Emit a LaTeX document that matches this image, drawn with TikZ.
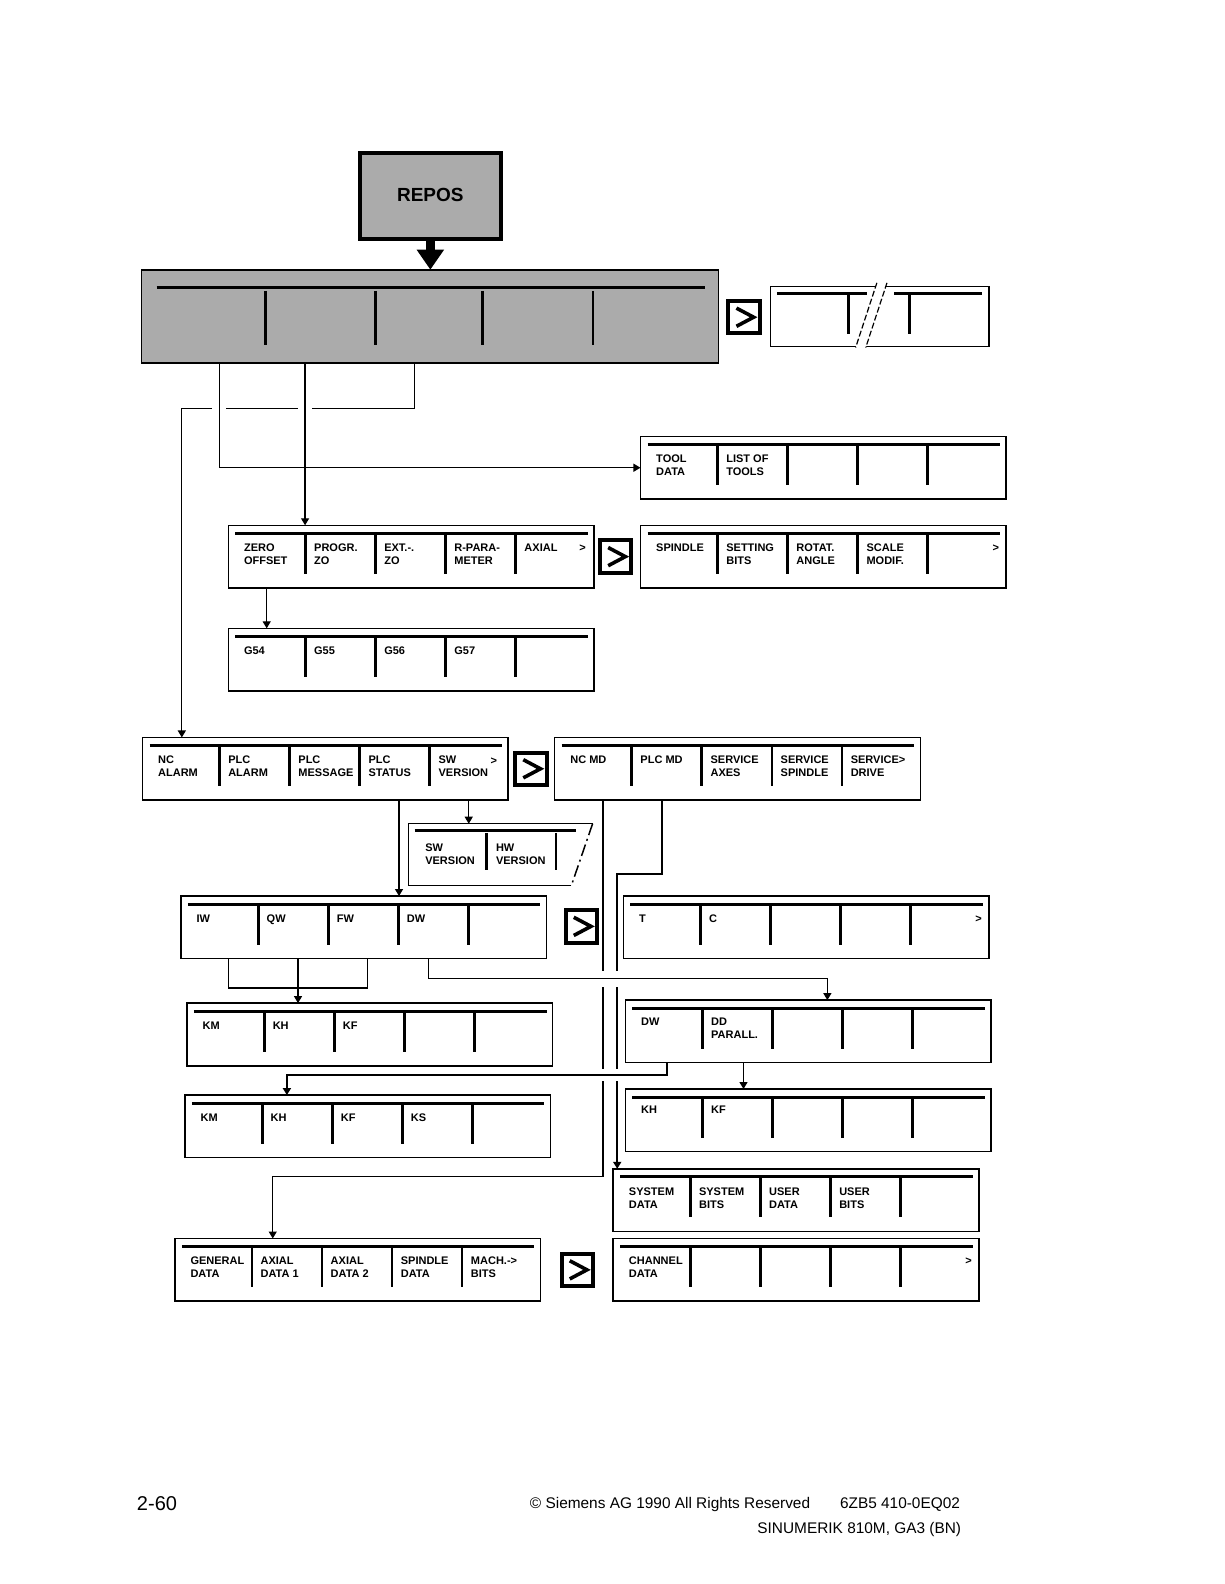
\documentclass[tikz,border=0pt]{standalone}
\usepackage{fontspec}
\setmainfont{Liberation Sans}
\usetikzlibrary{arrows.meta,fit}
\newcommand\sklabel[1]{\begin{tabular}[t]{@{}l@{}}#1\end{tabular}}

\begin{document}
\begin{tikzpicture}[x=0.505pt, y=-0.505pt, line width=0.6pt,
  >={Triangle[length=3.5pt,width=4pt]},
  skbox/.style={draw, line width=0.75pt, anchor=north west, inner sep=0pt, outer sep=0pt,
    minimum width=182.8pt, minimum height=31.3pt},
  gtbox/.style={draw, line width=2pt, anchor=north west, inner sep=0pt, outer sep=0pt,
    minimum width=15.7pt, minimum height=16.2pt},
  stipple/.style={draw, fill=black!33, inner sep=0pt, outer sep=0pt},
  topbar/.style={line width=1.5pt},
  sk/.style={line width=1.4pt},
  lbl/.style={font=\fontsize{5.5}{6.5}\selectfont\bfseries, anchor=base west, inner sep=0pt},
  foot/.style={font=\fontsize{7.7}{9}\selectfont, anchor=base west, inner sep=0pt},
  heavy/.style={line width=0.9pt}]

\useasboundingbox (0,0) rectangle (1212,1568);

% REPOS 和主菜单
\node[stipple, line width=2pt, minimum width=70.7pt, minimum height=43.4pt,
  font=\fontsize{9.5}{11}\selectfont\bfseries] (repos) at (426,194) {\raisebox{1.5pt}{REPOS}};
\node[stipple, line width=0.8pt, anchor=north west, minimum width=288.4pt, minimum height=46.5pt] (menu) at (140,267) {};
\draw[topbar] ([shift={(15,18)}]menu.north west) -- ([shift={(-13,18)}]menu.north east);
\foreach \dx in {123,232,338,447}
  \draw[sk] ([shift={(\dx,21)}]menu.north west) -- ++(0,54);
\draw[line width=4.5pt, -{Triangle[length=10pt,width=13pt]}] (repos.south) -- (repos.south |- menu.north);

% ">" 键
\foreach \n/\x/\y in {gt1/721/298, gt2/594/535, gt3/510/745, gt4/560/901, gt5/556/1241} {
  \node[gtbox] (\n) at (\x,\y) {};
  \draw[line width=1.8pt] ([shift={(8,7)}]\n.north west) -- ++(17,9) -- ++(-17,9);
}

% 右上角的续行框
\node[draw, line width=0.75pt, anchor=north west, inner sep=0pt, minimum width=109.1pt, minimum height=29.8pt] (cont) at (762,283) {};
\draw[topbar] ([shift={(7,8)}]cont.north west) -- ++(89,0);
\draw[topbar] ([shift={(123,8)}]cont.north west) -- ++(87,0);
\draw[sk] ([shift={(78,9)}]cont.north west) -- ++(0,39);
\draw[sk] ([shift={(138,9)}]cont.north west) -- ++(0,39);
\fill[white] ([shift={(106,-3)}]cont.north west) -- ++(10,0) -- ++(-21,64) -- ++(-10,0) -- cycle;
\draw[line width=0.6pt, dash pattern=on 3pt off 1.2pt] ([shift={(106,-3)}]cont.north west) -- ++(-21,64);
\draw[line width=0.6pt, dash pattern=on 3pt off 1.2pt] ([shift={(116,-3)}]cont.north west) -- ++(-21,64);

% 软键框
\foreach \n/\x/\y in {tool/634/432, zero/226/520, spin/634/520, gsel/226/622, alarm/141/730,
    mdata/549/730, iw/179/887, tc/617/887, km/185/993, dwp/619/990, kmks/183/1084,
    khkf/619/1078, sysd/607/1157, gen/173/1226, chan/607/1226} {
  \node[skbox] (\n) at (\x,\y) {};
  \draw[topbar] ([shift={(7,8)}]\n.north west) -- ([shift={(-6,8)}]\n.north east);
  \foreach \k in {0,...,3}
    \draw[sk] ([shift={(76.5+69.3*\k,9)}]\n.north west) -- ++(0,39);
}

% SW/HW 版本框
\node[fit={(405,816) (586,876)}, inner sep=0pt] (swhw) {};
\draw[line width=0.75pt] ([shift={(-21,0)}]swhw.south east) -- (swhw.south west) -- (swhw.north west) -- (swhw.north east);
\draw[line width=0.75pt, dash pattern=on 6pt off 2pt on 1pt off 2pt] (swhw.north east) -- ([shift={(-21,0)}]swhw.south east);
\draw[topbar] ([shift={(6,7)}]swhw.north west) -- ++(160,0);
\foreach \dx in {77,146}
  \draw[sk] ([shift={(\dx,9)}]swhw.north west) -- ++(0,37);

% 键名
\foreach \t [count=\i from 0] in {{TOOL\\DATA},{LIST OF\\TOOLS}}
  \node[lbl] (tool-\i) at ([shift={(15+69.4*\i,26)}]tool.north west) {\sklabel{\t}};
\foreach \t [count=\i from 0] in {{ZERO\\OFFSET},{PROGR.\\ZO},{EXT.-.\\ZO},{R-PARA-\\METER},{AXIAL}}
  \node[lbl] (zero-\i) at ([shift={(15+69.4*\i,26)}]zero.north west) {\sklabel{\t}};
\node[lbl] (zero-more) at ([shift={(-15,26)}]zero.north east) {>};
\foreach \t [count=\i from 0] in {{SPINDLE},{SETTING\\BITS},{ROTAT.\\ANGLE},{SCALE\\MODIF.}}
  \node[lbl] (spin-\i) at ([shift={(15+69.4*\i,26)}]spin.north west) {\sklabel{\t}};
\node[lbl] (spin-more) at ([shift={(-14,26)}]spin.north east) {>};
\foreach \t [count=\i from 0] in {G54,G55,G56,G57}
  \node[lbl] (gsel-\i) at ([shift={(15+69.4*\i,26)}]gsel.north west) {\sklabel{\t}};
\foreach \t [count=\i from 0] in {{NC\\ALARM},{PLC\\ALARM},{PLC\\MESSAGE},{PLC\\STATUS},{SW\\VERSION}}
  \node[lbl] (alarm-\i) at ([shift={(15+69.4*\i,26)}]alarm.north west) {\sklabel{\t}};
\node[lbl] (alarm-more) at ([shift={(-18,27)}]alarm.north east) {>};
\foreach \t [count=\i from 0] in {{NC MD},{PLC MD},{SERVICE\\AXES},{SERVICE\\SPINDLE},{SERVICE>\\DRIVE}}
  \node[lbl] (mdata-\i) at ([shift={(15+69.4*\i,26)}]mdata.north west) {\sklabel{\t}};
\foreach \t [count=\i from 0] in {{SW\\VERSION},{HW\\VERSION}}
  \node[lbl] (swhw-\i) at ([shift={(16+70*\i,27)}]swhw.north west) {\sklabel{\t}};
\foreach \t [count=\i from 0] in {IW,QW,FW,DW}
  \node[lbl] (iw-\i) at ([shift={(15+69.4*\i,26)}]iw.north west) {\sklabel{\t}};
\foreach \t [count=\i from 0] in {T,C}
  \node[lbl] (tc-\i) at ([shift={(15+69.4*\i,26)}]tc.north west) {\sklabel{\t}};
\node[lbl] (tc-more) at ([shift={(-14,26)}]tc.north east) {>};
\foreach \t [count=\i from 0] in {KM,KH,KF}
  \node[lbl] (km-\i) at ([shift={(15+69.4*\i,26)}]km.north west) {\sklabel{\t}};
\foreach \t [count=\i from 0] in {DW,{DD\\PARALL.}}
  \node[lbl] (dwp-\i) at ([shift={(15+69.4*\i,25)}]dwp.north west) {\sklabel{\t}};
\foreach \t [count=\i from 0] in {KM,KH,KF,KS}
  \node[lbl] (kmks-\i) at ([shift={(15+69.4*\i,26)}]kmks.north west) {\sklabel{\t}};
\foreach \t [count=\i from 0] in {KH,KF}
  \node[lbl] (khkf-\i) at ([shift={(15+69.4*\i,24)}]khkf.north west) {\sklabel{\t}};
\foreach \t [count=\i from 0] in {{SYSTEM\\DATA},{SYSTEM\\BITS},{USER\\DATA},{USER\\BITS}}
  \node[lbl] (sysd-\i) at ([shift={(15+69.4*\i,26)}]sysd.north west) {\sklabel{\t}};
\foreach \t [count=\i from 0] in {{GENERAL\\DATA},{AXIAL\\DATA 1},{AXIAL\\DATA 2},{SPINDLE\\DATA},{MACH.->\\BITS}}
  \node[lbl] (gen-\i) at ([shift={(15+69.4*\i,26)}]gen.north west) {\sklabel{\t}};
\foreach \t [count=\i from 0] in {{CHANNEL\\DATA}}
  \node[lbl] (chan-\i) at ([shift={(15+69.4*\i,26)}]chan.north west) {\sklabel{\t}};
\node[lbl] (chan-more) at ([shift={(-14,26)}]chan.north east) {>};

% 连线: 主菜单以下
\coordinate (m1) at ([shift={(77,0)}]menu.south west);
\coordinate (m2) at ([shift={(162,0)}]menu.south west);
\coordinate (m3) at ([shift={(270,0)}]menu.south west);
\draw[->] (m3) -- ++(0,45) -| ([shift={(39,0)}]alarm.north west);
\fill[white] ([shift={(-7,42)}]m1) rectangle ([shift={(7,48)}]m1);
\fill[white] ([shift={(-7,42)}]m2) rectangle ([shift={(7,48)}]m2);
\draw[->] (m1) |- (tool.west);
\draw[->] (m2) -- (m2 |- zero.north);

\coordinate (z1) at ([shift={(38,0)}]zero.south west);
\draw[->] (z1) -- (z1 |- gsel.north);

\coordinate (a1) at ([shift={(323,0)}]alarm.south west);
\coordinate (a2) at ([shift={(254,0)}]alarm.south west);
\draw[->] (a1) -- (a1 |- swhw.north);
\draw[->] (a2) -- (a2 |- iw.north);

% 中间两条竖线
\coordinate (md1) at ([shift={(48,0)}]mdata.south west);
\coordinate (md2) at ([shift={(106,0)}]mdata.south west);
\draw[->] (md1) -- ++(0,373) -| ([shift={(97,0)}]gen.north west);
\draw[heavy, ->] (md2) -- ++(0,73) -| ([shift={(4,0)}]sysd.north west);
\fill[white] ([shift={(-6,169)}]md1) rectangle ([shift={(20,185)}]md1);
\fill[white] ([shift={(-6,266)}]md1) rectangle ([shift={(20,278)}]md1);

% IW 以下
\coordinate (i1) at ([shift={(47,0)}]iw.south west);
\coordinate (i2) at ([shift={(185,0)}]iw.south west);
\coordinate (i3) at ([shift={(116,0)}]iw.south west);
\coordinate (i4) at ([shift={(245,0)}]iw.south west);
\draw (i1) -- ++(0,29) -| (i2);
\draw[->] (i3) -- (i3 |- km.north);
\draw[->] (i4) -- ++(0,20) -| ([shift={(200,0)}]dwp.north west);

\coordinate (dw1) at ([shift={(41,0)}]dwp.south west);
\coordinate (dw2) at ([shift={(117,0)}]dwp.south west);
\draw[heavy, ->] (dw1) -- ++(0,12) -| ([shift={(101,0)}]kmks.north west);
\draw[->] (dw2) -- (dw2 |- khkf.north);

% 页脚
\node[anchor=base west, inner sep=0pt, font=\fontsize{10}{12}\selectfont] (page) at (135,1495) {2-60};
\node[foot] (copy) at (524,1493) {© Siemens AG 1990 All Rights Reserved};
\node[foot] (order) at (831,1493) {6ZB5 410-0EQ02};
\node[foot, anchor=base east] (title) at (952,1518) {SINUMERIK 810M, GA3 (BN)};
\end{tikzpicture}
\end{document}
